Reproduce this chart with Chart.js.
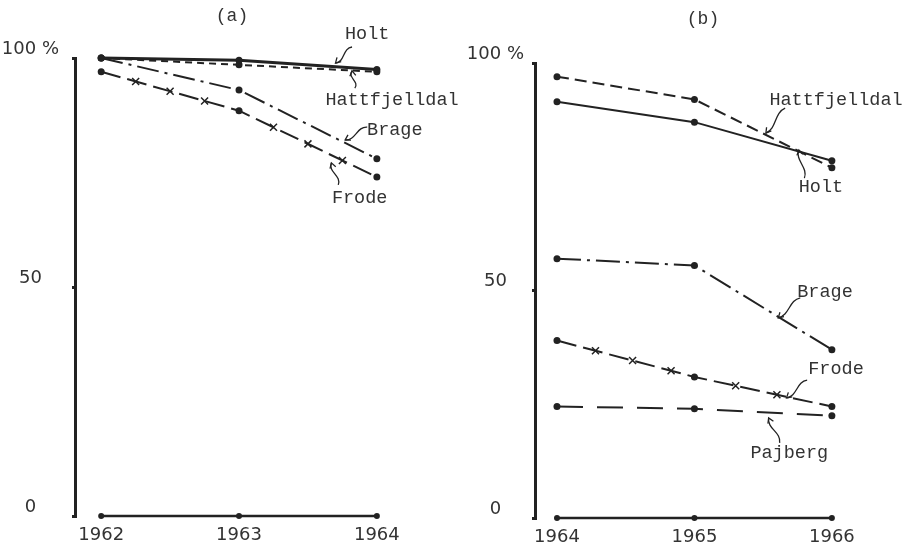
<!DOCTYPE html>
<html>
<head>
<meta charset="utf-8">
<script src="https://cdn.jsdelivr.net/npm/chart.js@4.4.0/dist/chart.umd.min.js"></script>
<style>
  body { margin: 0; background: #fff; }
  #wrap { position: relative; width: 913px; height: 552px; overflow: hidden; }
  canvas { position: absolute; top: 0; }
  #panelA { left: 0; }
  #panelB { left: 456px; }
</style>
</head>
<body>
<div id="wrap">
  <canvas id="panelA" width="470" height="552"></canvas>
  <canvas id="panelB" width="457" height="552"></canvas>
</div>
<script>
// share of herd (%) per farm, panel (a) 1962-64, panel (b) 1964-66
const yearsA = [1962, 1963, 1964];
const holtA = [100, 99.5, 97.5];
const hattfjelldalA = [100, 98.5, 97];
const brageA = [100, 93, 78];
const frodeA = [97, 88.5, 74];

const yearsB = [1964, 1965, 1966];
const hattfjelldalB = [97, 92, 77];
const holtB = [91.5, 87, 78.5];
const brageB = [57, 55.5, 37];
const frodeB = [39, 31, 24.5];
const pajbergB = [24.5, 24, 22.5];

const yTicks = [0, 50, 100];

const INK = '#222';
const TYPE = '"Liberation Mono", "DejaVu Sans Mono", monospace';
const HAND = '"DejaVu Sans", sans-serif';

function pts(xs, ys) {
  return xs.map((x, i) => ({ x: x, y: ys[i] }));
}

function series(label, xs, ys, dash, width) {
  return {
    label: label,
    data: pts(xs, ys),
    borderColor: INK,
    backgroundColor: INK,
    borderWidth: width || 2,
    borderDash: dash || [],
    pointRadius: 3.5,
    pointBorderWidth: 0,
    pointBackgroundColor: INK,
    tension: 0,
    clip: false
  };
}

// the horizontal axis is drawn as its own line with dots at each year
function baseLine(xs) {
  const s = series('axis', xs, xs.map(() => 0), [], 2.5);
  s.pointRadius = 3;
  return s;
}

// wavy leader with a small arrow head
function squiggle(ctx, x0, y0, x1, y1) {
  const dx = x1 - x0, dy = y1 - y0;
  const len = Math.hypot(dx, dy) || 1;
  const nx = -dy / len, ny = dx / len, w = 6;
  ctx.beginPath();
  ctx.moveTo(x0, y0);
  ctx.bezierCurveTo(x0 + dx / 3 + nx * w, y0 + dy / 3 + ny * w,
                    x0 + 2 * dx / 3 - nx * w, y0 + 2 * dy / 3 - ny * w,
                    x1, y1);
  ctx.stroke();
  const ux = dx / len, uy = dy / len, h = 5;
  ctx.beginPath();
  ctx.moveTo(x1 - ux * h + nx * h * 0.6, y1 - uy * h + ny * h * 0.6);
  ctx.lineTo(x1, y1);
  ctx.lineTo(x1 - ux * h - nx * h * 0.6, y1 - uy * h - ny * h * 0.6);
  ctx.stroke();
}

const farmNotes = {
  id: 'farmNotes',
  afterDatasetsDraw(chart, args, opts) {
    const ctx = chart.ctx;
    const sx = chart.scales.x, sy = chart.scales.y;
    const px = p => [sx.getPixelForValue(p[0]), sy.getPixelForValue(p[1])];
    ctx.save();
    ctx.strokeStyle = INK;
    ctx.fillStyle = INK;
    ctx.lineWidth = 1.5;

    // little crosses along the Frode line
    chart.data.datasets.forEach((ds, i) => {
      if (ds.label !== 'Frode') return;
      const el = chart.getDatasetMeta(i).data;
      for (let j = 0; j < el.length - 1; j++) {
        (opts.crosses[j] || []).forEach(t => {
          const cx = el[j].x + (el[j + 1].x - el[j].x) * t;
          const cy = el[j].y + (el[j + 1].y - el[j].y) * t;
          ctx.beginPath();
          ctx.moveTo(cx - 3.5, cy - 3.5); ctx.lineTo(cx + 3.5, cy + 3.5);
          ctx.moveTo(cx + 3.5, cy - 3.5); ctx.lineTo(cx - 3.5, cy + 3.5);
          ctx.stroke();
        });
      }
    });

    ctx.lineWidth = 1.3;
    ctx.textAlign = 'center';
    ctx.textBaseline = 'middle';
    ctx.font = '18.5px ' + TYPE;
    ctx.fillStyle = '#333';
    opts.notes.forEach(n => {
      const [tx, ty] = px(n.at);
      ctx.fillText(n.text, tx, ty);
      const [x0, y0] = px(n.from);
      const [x1, y1] = px(n.to);
      squiggle(ctx, x0, y0, x1, y1);
    });

    ctx.font = '18px ' + TYPE;
    ctx.fillText(opts.caption.text, opts.caption.x, opts.caption.y);
    ctx.restore();
  }
};

function makePanel(id, p) {
  return new Chart(document.getElementById(id), {
    type: 'line',
    data: { datasets: p.datasets },
    plugins: [farmNotes],
    options: {
      responsive: false,
      animation: false,
      events: [],
      layout: { padding: { left: 0, top: p.top, right: p.right, bottom: 0 } },
      plugins: {
        legend: { display: false },
        tooltip: { enabled: false },
        farmNotes: { notes: p.notes, caption: p.caption, crosses: p.crosses }
      },
      scales: {
        x: {
          type: 'linear',
          min: p.xMin,
          max: p.xMax,
          grid: { display: false },
          border: { display: false },
          afterBuildTicks: s => { s.ticks = p.years.map(v => ({ value: v })); },
          afterFit: s => { s.height = p.xHeight; },
          ticks: {
            callback: v => String(v),
            color: '#333',
            font: { family: HAND, size: 18 },
            padding: 1,
            maxRotation: 0,
            autoSkip: false
          }
        },
        y: {
          min: 0,
          max: 100,
          grid: { display: true, drawOnChartArea: false, drawTicks: true, tickLength: 3, color: INK, lineWidth: 3 },
          border: { display: true, color: INK, width: 3 },
          afterBuildTicks: s => { s.ticks = yTicks.map(v => ({ value: v })); },
          afterFit: s => { s.width = p.yWidth; },
          ticks: {
            callback: v => v === 100 ? '100 %' : String(v),
            color: '#333',
            font: { family: HAND, size: 18 },
            crossAlign: 'center',
            labelOffset: -9,
            padding: p.yPad
          }
        }
      }
    }
  });
}

makePanel('panelA', {
  years: yearsA,
  xMin: 1961.81, xMax: 1964.03,
  top: 58, right: 89, xHeight: 36, yWidth: 75, yPad: 13,
  datasets: [
    baseLine(yearsA),
    series('Hattfjelldal', yearsA, hattfjelldalA, [7, 5], 2),
    series('Holt', yearsA, holtA, [], 3),
    series('Brage', yearsA, brageA, [22, 6, 3, 6], 2),
    series('Frode', yearsA, frodeA, [20, 7], 2)
  ],
  crosses: [[0.25, 0.5, 0.75], [0.25, 0.5, 0.75]],
  caption: { text: '(a)', x: 232, y: 16 },
  notes: [
    { text: 'Holt', at: [1963.93, 105.2], from: [1963.82, 102.4], to: [1963.70, 98.9] },
    { text: 'Hattfjelldal', at: [1964.11, 90.8], from: [1963.84, 93.4], to: [1963.82, 97.2] },
    { text: 'Brage', at: [1964.13, 84.3], from: [1963.93, 84.9], to: [1963.77, 82.1] },
    { text: 'Frode', at: [1963.875, 69.4], from: [1963.72, 72.3], to: [1963.67, 77.1] }
  ]
});

makePanel('panelB', {
  years: yearsB,
  xMin: 1963.84, xMax: 1966.03,
  top: 63, right: 77, xHeight: 34, yWidth: 79, yPad: 8,
  datasets: [
    baseLine(yearsB),
    series('Hattfjelldal', yearsB, hattfjelldalB, [12, 6], 2),
    series('Holt', yearsB, holtB, [], 2),
    series('Brage', yearsB, brageB, [24, 6, 3, 6], 2),
    series('Frode', yearsB, frodeB, [20, 7], 2),
    series('Pajberg', yearsB, pajbergB, [26, 14], 2)
  ],
  crosses: [[0.28, 0.55, 0.83], [0.3, 0.6]],
  caption: { text: '(b)', x: 247, y: 19 },
  notes: [
    { text: 'Hattfjelldal', at: [1966.03, 91.9], from: [1965.66, 90.1], to: [1965.52, 84.6] },
    { text: 'Holt', at: [1965.92, 72.7], from: [1965.80, 74.7], to: [1965.76, 80.9] },
    { text: 'Brage', at: [1965.95, 49.7], from: [1965.77, 48.4], to: [1965.61, 44.0] },
    { text: 'Frode', at: [1966.03, 32.7], from: [1965.82, 30.3], to: [1965.67, 26.4] },
    { text: 'Pajberg', at: [1965.69, 14.3], from: [1965.62, 16.5], to: [1965.54, 22.0] }
  ]
});
</script>
</body>
</html>
